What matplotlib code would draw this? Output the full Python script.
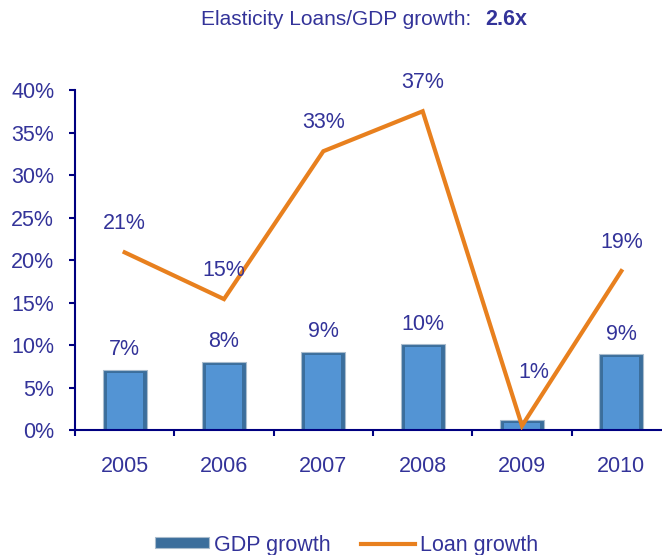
import matplotlib
matplotlib.use("Agg")
import matplotlib.pyplot as plt
from matplotlib.ticker import FixedLocator, PercentFormatter

plt.rcParams['font.family'] = ['Liberation Sans', 'DejaVu Sans']

# data
years = ["2005", "2006", "2007", "2008", "2009", "2010"]
gdp_growth = [7.05, 8.0, 9.2, 10.1, 1.2, 8.9]
loan_growth = [20.9, 15.4, 32.8, 37.5, 0.5, 18.7]
gdp_labels = ["7%", "8%", "9%", "10%", "1%", "9%"]
loan_labels = ["21%", "15%", "33%", "37%", "1%", "19%"]
elasticity = "2.6x"

navy = "#333399"
axis_col = "#000080"
orange = "#E8801E"
bar_col = "#5394D4"

fig = plt.figure(figsize=(6.62, 5.55), dpi=100)
ax = fig.add_axes([0.1133, 0.2252, 0.9003, 0.6126])

x = list(range(len(years)))

# GDP bars: darker frame + lighter inner face, a rough bevel
ax.bar(x, gdp_growth, width=0.44, color="#3b6e9c", edgecolor="#a9bccd",
       linewidth=0.8, zorder=2, label="GDP growth")
inner = [max(v - 0.35, 0) for v in gdp_growth]
ax.bar(x, inner, width=0.36, color=bar_col, linewidth=0, zorder=2.1)

for i, v in enumerate(gdp_growth):
    if i == 4:
        continue
    ax.annotate(gdp_labels[i], (i, v), xytext=(0, 14.5), textcoords="offset points",
                ha="center", va="center", fontsize=15.5, color=navy)

# loan line
ax.plot(x, loan_growth, color=orange, linewidth=3, zorder=3,
        solid_joinstyle="miter", label="Loan growth")
for i, v in enumerate(loan_growth):
    off = (0, 20.5)
    if i == 4:
        off = (8.5, 38)
    ax.annotate(loan_labels[i], (i, v), xytext=off, textcoords="offset points",
                ha="center", va="center", fontsize=15.5, color=navy)

ax.set_xlim(-0.5, len(years) - 0.5)
ax.set_ylim(0, 40)
ax.yaxis.set_major_locator(FixedLocator(range(0, 41, 5)))
ax.yaxis.set_major_formatter(PercentFormatter(decimals=0))
ax.set_xticks(x)
ax.set_xticklabels(years)
ax.xaxis.set_minor_locator(FixedLocator([i - 0.5 for i in range(len(years) + 1)]))

for s in ["top", "right"]:
    ax.spines[s].set_visible(False)
for s in ["left", "bottom"]:
    ax.spines[s].set_color(axis_col)
    ax.spines[s].set_linewidth(1.5)

ax.tick_params(axis="y", direction="out", length=4, width=1.5, color=axis_col,
               labelsize=15.5, labelcolor=navy, pad=11)
ax.tick_params(axis="x", which="major", length=0, labelsize=15.5, labelcolor=navy, pad=19)
ax.tick_params(axis="x", which="minor", direction="out", length=4, width=1.5, color=axis_col)

# heading
fig.text(0.729, 0.964, "Elasticity Loans/GDP growth:  ", ha="right", va="center",
         fontsize=15, color=navy)
fig.text(0.733, 0.964, elasticity, ha="left", va="center", fontsize=15.5,
         color=navy, fontweight="bold")

handles, labels = ax.get_legend_handles_labels()
order = [labels.index("GDP growth"), labels.index("Loan growth")]
leg = fig.legend([handles[k] for k in order], [labels[k] for k in order],
                 loc="center", bbox_to_anchor=(0.524, 0.018), ncol=2, frameon=False,
                 fontsize=15.5, handlelength=2.5, handletextpad=0.25, columnspacing=1.4,
                 handleheight=0.4)
for t in leg.get_texts():
    t.set_color(navy)

fig.savefig("out.png", dpi=100)
